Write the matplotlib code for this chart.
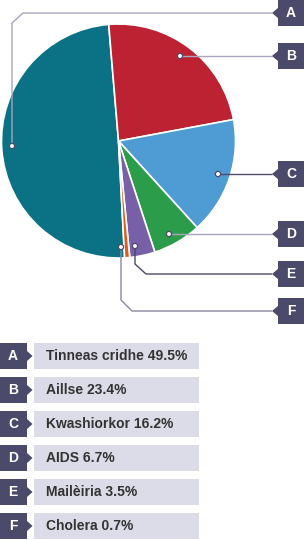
import matplotlib
matplotlib.use('Agg')
import matplotlib.pyplot as plt
from matplotlib.patches import Rectangle, Polygon, Circle

# ---- data ----
letters = ['A', 'B', 'C', 'D', 'E', 'F']
causes = ['Tinneas cridhe', 'Aillse', 'Kwashiorkor', 'AIDS', 'Mailèiria', 'Cholera']
percent = [49.5, 23.4, 16.2, 6.7, 3.5, 0.7]

# ---- style ----
colors = ['#0b7286', '#bc2232', '#4f9bd3', '#2b9c49', '#7860a8', '#e25b1d']
dark = '#4b4a6a'
light_line = '#a9a7bb'
row_bg = '#dcdce8'
text_col = '#333333'
plt.rcParams['font.family'] = ['Liberation Sans', 'DejaVu Sans']

W, H = 304, 540
fig = plt.figure(figsize=(W / 100, H / 100), dpi=100)
ax = fig.add_axes([0, 0, 1, 1])


def Y(y):
    return H - y


cx, cy, r = 118.5, 141, 117
ax.pie(percent, colors=colors, startangle=273, counterclock=False,
       center=(cx, Y(cy)), radius=r, frame=True,
       wedgeprops=dict(edgecolor='white', linewidth=1.2))

# leader lines (pixel layout, top-down y)
leaders = [
    ([(12, 146), (12, 23), (23, 13), (272, 13)], light_line),
    ([(180, 56), (272, 56)], light_line),
    ([(218, 174), (272, 174)], dark),
    ([(169, 234), (272, 234)], light_line),
    ([(135, 246), (135, 264), (146, 274), (272, 274)], dark),
    ([(121, 247), (121, 300), (132, 311), (272, 311)], '#8a88a0'),
]
box_y = [13, 56, 174, 234, 274, 311]
for (pts, col), lab, by in zip(leaders, letters, box_y):
    xs = [p[0] for p in pts]
    ys = [Y(p[1]) for p in pts]
    ax.plot(xs, ys, color=col, lw=1.0, zorder=3, solid_capstyle='butt')
    ax.add_patch(Circle((pts[0][0], Y(pts[0][1])), 2.6, facecolor='white',
                        edgecolor=dark, lw=0.9, zorder=5))
    # label box with pointer
    ax.add_patch(Rectangle((278, Y(by + 13)), 26, 26, facecolor=dark,
                           edgecolor='none', zorder=4))
    ax.add_patch(Polygon([(272, Y(by)), (278.5, Y(by - 5.5)), (278.5, Y(by + 5.5))],
                         closed=True, facecolor=dark, edgecolor='none', zorder=4))
    ax.text(291, Y(by), lab, color='white', fontsize=10, fontweight='bold',
            ha='center', va='center', zorder=6)

# legend table
for i, (lab, name, val) in enumerate(zip(letters, causes, percent)):
    top = 343 + 34 * i
    ymid = top + 13
    ax.add_patch(Rectangle((0, Y(top + 26)), 27, 26, facecolor=dark, edgecolor='none'))
    ax.add_patch(Polygon([(26.5, Y(ymid - 5.5)), (32.5, Y(ymid)), (26.5, Y(ymid + 5.5))],
                         closed=True, facecolor=dark, edgecolor='none'))
    ax.text(13, Y(ymid), lab, color='white', fontsize=10, fontweight='bold',
            ha='center', va='center')
    ax.add_patch(Rectangle((34, Y(top + 26)), 165, 26, facecolor=row_bg, edgecolor='none'))
    ax.text(46, Y(ymid), f'{name} {val}%', color=text_col, fontsize=10,
            fontweight='bold', ha='left', va='center')

ax.set_xlim(0, W)
ax.set_ylim(0, H)
ax.set_aspect('auto')
ax.axis('off')
fig.savefig('out.png', dpi=100)
